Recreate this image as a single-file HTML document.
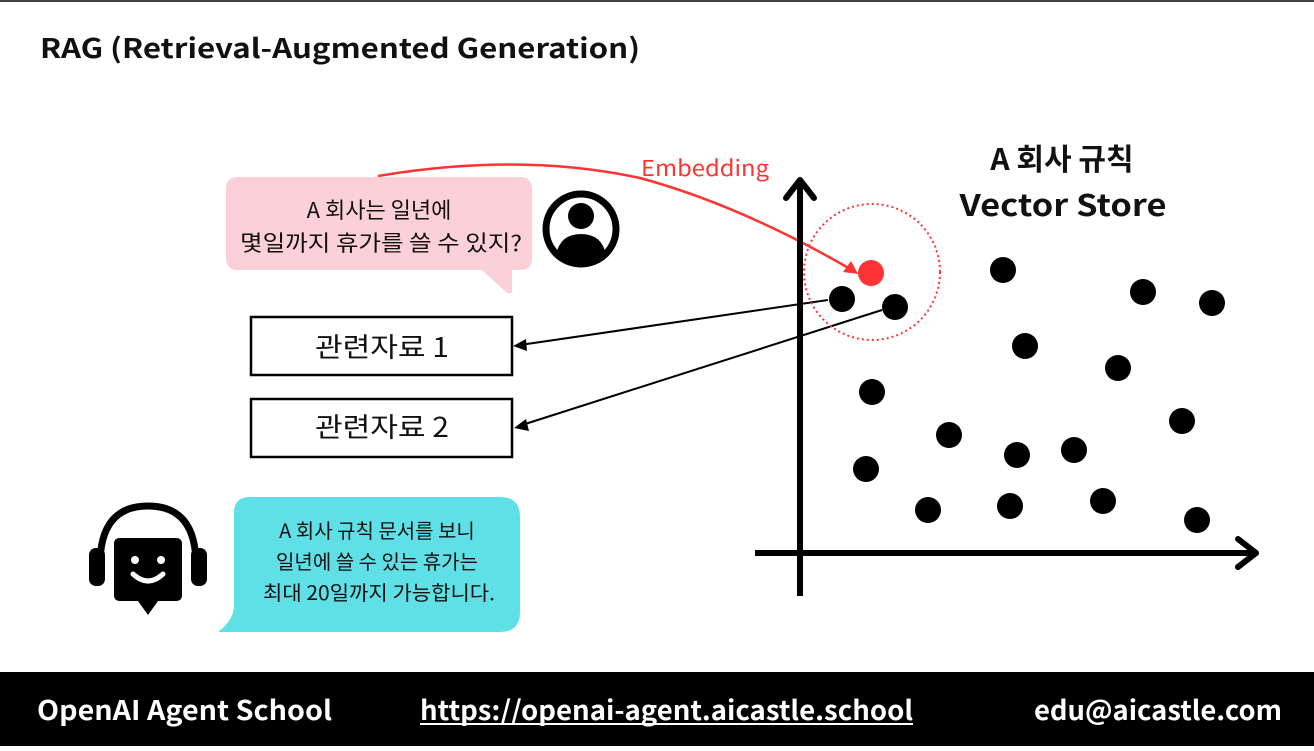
<!DOCTYPE html>
<html><head><meta charset="utf-8"><style>
body{margin:0;width:1314px;height:746px;overflow:hidden;background:#fff;font-family:"Noto Sans CJK KR",sans-serif}
</style></head><body>
<svg width="1314" height="746" xmlns="http://www.w3.org/2000/svg" font-family="'Noto Sans CJK KR',sans-serif">
<line x1="0" y1="1" x2="1314" y2="1" stroke="#000" stroke-width="1.5"/>
<text x="40" y="58" font-size="27" font-weight="bold" fill="#111" textLength="600" lengthAdjust="spacingAndGlyphs">RAG (Retrieval-Augmented Generation)</text>
<!-- pink bubble -->
<path d="M238,177 H520 Q532,177 532,189 V258 Q532,270 520,270 H512 V290 Q512,296 506,292 L482,270 H238 Q226,270 226,258 V189 Q226,177 238,177Z" fill="#fbd0d6"/>
<text x="379" y="218" font-size="22" text-anchor="middle" fill="#111">A 회사는 일년에</text>
<text x="381" y="251" font-size="22" text-anchor="middle" fill="#111" textLength="282" lengthAdjust="spacingAndGlyphs">몇일까지 휴가를 쓸 수 있지?</text>
<!-- user icon -->
<circle cx="581" cy="229" r="35" fill="none" stroke="#000" stroke-width="7"/>
<circle cx="581" cy="216" r="13" fill="#000"/>
<path d="M556,255 Q560,234 581,234 Q602,234 606,255 Q594,266 581,266 Q568,266 556,255Z" fill="#000"/>
<!-- embedding arrow -->
<path d="M378,176 Q520,152 640,178 Q740,205 852,270" fill="none" stroke="#ff3333" stroke-width="2.5"/>
<polygon points="858,274 843,272 851,261" fill="#ff3333"/>
<text x="641" y="176" font-size="22" fill="#ff3333" textLength="128" lengthAdjust="spacingAndGlyphs">Embedding</text>
<!-- boxes -->
<rect x="251" y="317" width="261" height="58" fill="#fff" stroke="#000" stroke-width="2.5"/>
<text x="382" y="357" font-size="27" text-anchor="middle" fill="#111" textLength="134" lengthAdjust="spacingAndGlyphs">관련자료 1</text>
<rect x="251" y="399" width="261" height="58" fill="#fff" stroke="#000" stroke-width="2.5"/>
<text x="382" y="437" font-size="27" text-anchor="middle" fill="#111" textLength="134" lengthAdjust="spacingAndGlyphs">관련자료 2</text>
<line x1="828" y1="300" x2="520" y2="345" stroke="#000" stroke-width="2"/>
<polygon points="513,346 526,339 527,351" fill="#000"/>
<line x1="882" y1="310" x2="522" y2="425" stroke="#000" stroke-width="2"/>
<polygon points="514,428 526,419 529,431" fill="#000"/>
<!-- teal bubble -->
<path d="M250,497 H500 Q520,497 520,517 V612 Q520,632 500,632 H218 Q234,620 234,605 V513 Q234,497 250,497Z" fill="#5ee0e6"/>
<text x="377" y="538" font-size="20" text-anchor="middle" fill="#111">A 회사 규칙 문서를 보니</text>
<text x="377" y="569" font-size="20" text-anchor="middle" fill="#111">일년에 쓸 수 있는 휴가는</text>
<text x="379" y="600" font-size="20" text-anchor="middle" fill="#111" textLength="232" lengthAdjust="spacingAndGlyphs">최대 20일까지 가능합니다.</text>
<!-- bot icon -->
<path d="M100,565 Q100,506 148,506 Q196,506 196,565" fill="none" stroke="#000" stroke-width="7"/>
<rect x="89" y="548" width="16" height="38" rx="7" fill="#000"/>
<rect x="191" y="548" width="16" height="38" rx="7" fill="#000"/>
<path d="M120,538 H176 Q182,538 182,544 V595 Q182,601 176,601 H158 L148,615 L138,601 H120 Q114,601 114,595 V544 Q114,538 120,538Z" fill="#000"/>
<circle cx="135" cy="560" r="4" fill="#fff"/><circle cx="161" cy="560" r="4" fill="#fff"/>
<path d="M133,574 Q148,588 163,574" fill="none" stroke="#fff" stroke-width="5" stroke-linecap="round"/>
<!-- axes -->
<line x1="800" y1="596" x2="800" y2="185" stroke="#000" stroke-width="6"/>
<polyline points="786,198 800,180 814,198" fill="none" stroke="#000" stroke-width="6" stroke-linecap="round" stroke-linejoin="round"/>
<line x1="755" y1="553" x2="1255" y2="553" stroke="#000" stroke-width="6"/>
<polyline points="1238,539 1256,553 1238,567" fill="none" stroke="#000" stroke-width="6" stroke-linecap="round" stroke-linejoin="round"/>
<text x="1062" y="170" font-size="30" font-weight="bold" text-anchor="middle" fill="#111">A 회사 규칙</text>
<text x="1063" y="216" font-size="30" font-weight="bold" text-anchor="middle" fill="#111" textLength="207" lengthAdjust="spacingAndGlyphs">Vector Store</text>
<circle cx="872" cy="272" r="68" fill="none" stroke="#ff3333" stroke-width="2" stroke-dasharray="2,3"/>
<circle cx="871" cy="273" r="13" fill="#ff3333"/>
<g fill="#000">
<circle cx="842" cy="299" r="13"/><circle cx="895" cy="307" r="13"/><circle cx="1003" cy="270" r="13"/>
<circle cx="1143" cy="292" r="13"/><circle cx="1212" cy="303" r="13"/><circle cx="1025" cy="346" r="13"/>
<circle cx="1118" cy="368" r="13"/><circle cx="872" cy="392" r="13"/><circle cx="1182" cy="421" r="13"/>
<circle cx="949" cy="435" r="13"/><circle cx="1017" cy="455" r="13"/><circle cx="1074" cy="450" r="13"/>
<circle cx="866" cy="469" r="13"/><circle cx="928" cy="510" r="13"/><circle cx="1010" cy="506" r="13"/>
<circle cx="1103" cy="501" r="13"/><circle cx="1197" cy="520" r="13"/>
</g>
<!-- footer -->
<rect x="0" y="672" width="1314" height="74" fill="#000"/>
<text x="37" y="720" font-size="27" font-weight="bold" fill="#fff" textLength="295" lengthAdjust="spacingAndGlyphs">OpenAI Agent School</text>
<text x="420" y="720" font-size="27" font-weight="bold" fill="#fff" textLength="493" lengthAdjust="spacingAndGlyphs">https://openai-agent.aicastle.school</text>
<line x1="420" y1="724" x2="913" y2="724" stroke="#fff" stroke-width="2"/>
<text x="1034" y="720" font-size="27" font-weight="bold" fill="#fff" textLength="248" lengthAdjust="spacingAndGlyphs">edu@aicastle.com</text>
</svg>
</body></html>
